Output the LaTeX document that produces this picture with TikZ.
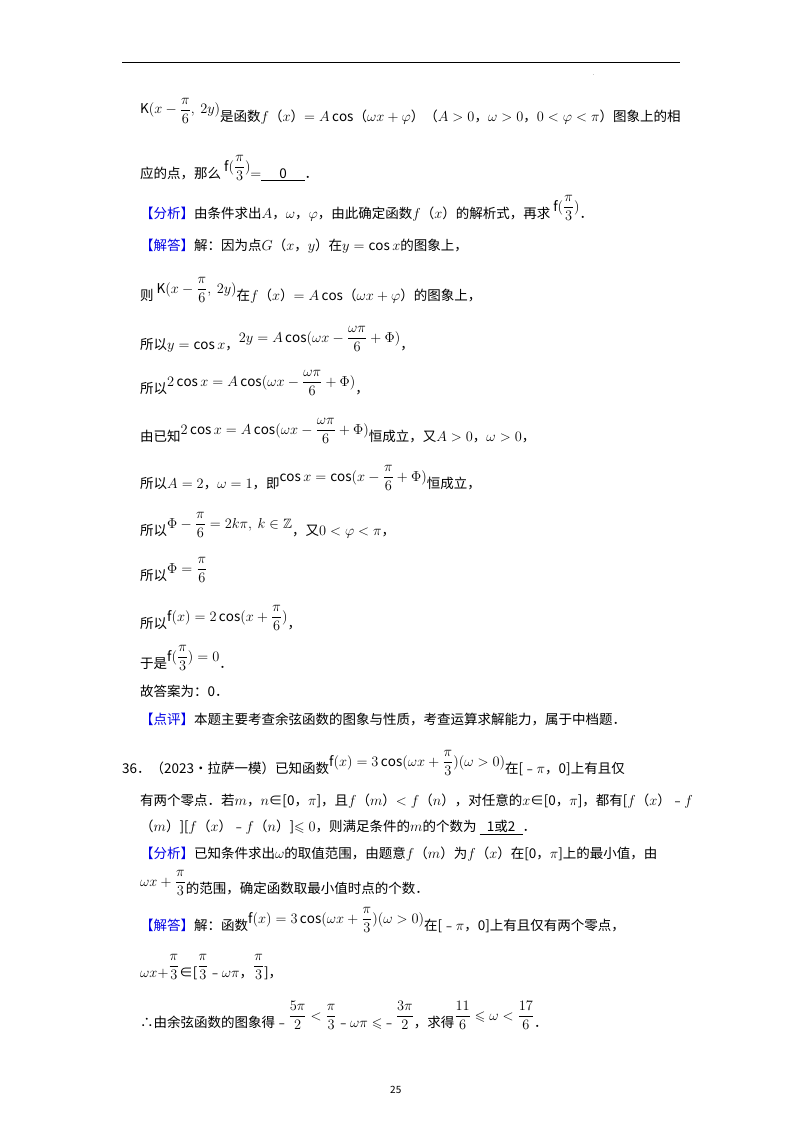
\documentclass[tikz,border=0pt]{standalone}
\usepackage{amsmath,amssymb}
\usepackage{fontspec}
\setmainfont{Noto Sans CJK SC}
\newfontfamily\dv{DejaVu Sans}
\definecolor{kb}{RGB}{0,0,230}
\newcommand{\fm}[1]{\raisebox{7pt}{$\displaystyle #1$}}
\newcommand{\ans}[1]{\underline{\makebox[3.2em]{#1}}}
\newcommand{\tg}[1]{{\color{kb}【#1】}}
\begin{document}
\begin{tikzpicture}[x=1pt,y=-1pt,tx/.style={anchor=base west,inner sep=0pt,font=\fontsize{13.5pt}{16pt}\selectfont}]
\useasboundingbox[fill=white] (0,0) rectangle (800,1132);
\draw[line width=1pt] (122,63) -- (680,63);
\node[tx,font=\tiny] (dot) at (593,76) {.};
\node[tx] (a1) at (140,121) {\fm{\mathrm{K}(x-\frac{\pi}{6},\ 2y)}是函数$f$（$x$）$=A\cos$（$\omega x+\varphi$）（$A>0$，$\omega>0$，$0<\varphi<\pi$）图象上的相};
\node[tx] (a2) at (140,178) {应的点，那么 \fm{\mathrm{f}(\frac{\pi}{3})}$=$\ans{0}．};
\node[tx] (a3) at (140,218) {\tg{分析}由条件求出$A$，$\omega$，$\varphi$，由此确定函数$f$（$x$）的解析式，再求 \fm{\mathrm{f}(\frac{\pi}{3})}．};
\node[tx] (a4) at (140,250) {\tg{解答}解：因为点$G$（$x$，$y$）在$y=\cos x$的图象上，};
\node[tx] (a5) at (140,300) {则 \fm{\mathrm{K}(x-\frac{\pi}{6},\ 2y)}在$f$（$x$）$=A\cos$（$\omega x+\varphi$）的图象上，};
\node[tx] (a6) at (140,349) {所以$y=\cos x$，\fm{2y=A\cos(\omega x-\frac{\omega\pi}{6}+\Phi)}，};
\node[tx] (a7) at (140,393) {所以\fm{2\cos x=A\cos(\omega x-\frac{\omega\pi}{6}+\Phi)}，};
\node[tx] (a8) at (140,441) {由已知\fm{2\cos x=A\cos(\omega x-\frac{\omega\pi}{6}+\Phi)}恒成立，又$A>0$，$\omega>0$，};
\node[tx] (a9) at (140,488) {所以$A=2$，$\omega=1$，即\fm{\cos x=\cos(x-\frac{\pi}{6}+\Phi)}恒成立，};
\node[tx] (a10) at (140,535) {所以\fm{\Phi-\frac{\pi}{6}=2k\pi,\ k\in\mathbb{Z}}，又$0<\varphi<\pi$，};
\node[tx] (a11) at (140,580) {所以\fm{\Phi=\frac{\pi}{6}}};
\node[tx] (a12) at (140,628) {所以\fm{\mathrm{f}(x)=2\cos(x+\frac{\pi}{6})}，};
\node[tx] (a13) at (140,668) {于是\fm{\mathrm{f}(\frac{\pi}{3})=0}．};
\node[tx] (a14) at (140,696) {故答案为：0．};
\node[tx] (a15) at (140,724) {\tg{点评}本题主要考查余弦函数的图象与性质，考查运算求解能力，属于中档题．};
\node[tx] (b1) at (122,773) {36．（2023•拉萨一模）已知函数\fm{\mathrm{f}(x)=3\cos(\omega x+\frac{\pi}{3})(\omega>0)}在[﹣$\pi$，0]上有且仅};
\node[tx] (b2) at (140,805) {有两个零点．若$m$，$n$∈[0，$\pi$]，且$f$（$m$）$<f$（$n$），对任意的$x$∈[0，$\pi$]，都有[$f$（$x$）﹣$f$};
\node[tx] (b3) at (140,831) {（$m$）][$f$（$x$）﹣$f$（$n$）]$\leqslant0$，则满足条件的$m$的个数为 \ans{1或2}．};
\node[tx] (b4) at (140,858) {\tg{分析}已知条件求出$\omega$的取值范围，由题意$f$（$m$）为$f$（$x$）在[0，$\pi$]上的最小值，由};
\node[tx] (b5) at (140,893) {\fm{\omega x+\frac{\pi}{3}}的范围，确定函数取最小值时点的个数．};
\node[tx] (b6) at (140,930) {\tg{解答}解：函数\fm{\mathrm{f}(x)=3\cos(\omega x+\frac{\pi}{3})(\omega>0)}在[﹣$\pi$，0]上有且仅有两个零点，};
\node[tx] (b7) at (140,977) {$\omega x+$\fm{\frac{\pi}{3}}∈[\fm{\frac{\pi}{3}}﹣$\omega\pi$，\fm{\frac{\pi}{3}}]，};
\node[tx] (b8) at (140,1027) {∴由余弦函数的图象得﹣\fm{\frac{5\pi}{2}<\frac{\pi}{3}}﹣$\omega\pi\leqslant$﹣\fm{\frac{3\pi}{2}}，求得\fm{\frac{11}{6}\leqslant\omega<\frac{17}{6}}．};
\node[tx,font=\fontsize{10pt}{12pt}\selectfont] (pg) at (390,1093) {25};
\end{tikzpicture}
\end{document}
